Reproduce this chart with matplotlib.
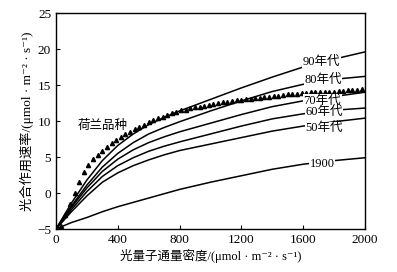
import matplotlib
matplotlib.use("Agg")
import matplotlib.pyplot as plt

plt.rcParams['font.family'] = ['Liberation Serif', 'Noto Sans CJK SC', 'DejaVu Sans']

# light intensity for the modelled curves
x_line = [0, 100, 200, 300, 400, 500, 600, 700, 800, 1000, 1200, 1400, 1600, 1800, 2000]
y_90s = [-5, -1.4, 1.8, 4.5, 6.6, 8.2, 9.5, 10.5, 11.4, 13.0, 14.6, 16.1, 17.5, 18.6, 19.6]
y_80s = [-5, -1.8, 1.1, 3.6, 5.5, 7.0, 8.2, 9.1, 9.9, 11.4, 12.8, 14.1, 15.1, 15.8, 16.2]
y_70s = [-5, -2.0, 0.7, 3.0, 4.7, 6.0, 7.0, 7.8, 8.5, 9.7, 10.9, 12.0, 12.8, 13.4, 14.0]
y_60s = [-5, -2.3, 0.2, 2.3, 3.8, 4.9, 5.8, 6.5, 7.1, 8.2, 9.3, 10.3, 11.0, 11.5, 11.8]
y_50s = [-5, -2.6, -0.4, 1.5, 2.8, 3.8, 4.6, 5.3, 5.9, 6.8, 7.7, 8.6, 9.3, 9.9, 10.4]
y_1900 = [-5, -4.1, -3.4, -2.6, -1.9, -1.3, -0.7, -0.1, 0.5, 1.5, 2.4, 3.3, 4.0, 4.5, 4.9]

# Dutch variety measurements (triangles)
x_nl = [30, 60, 90, 120, 150, 180, 210, 240, 270, 300, 330, 360, 390, 420, 450,
        480, 510, 540, 570, 600, 630, 660, 690, 720, 750, 780, 810, 840, 870,
        900, 930, 960, 990, 1020, 1050, 1080, 1110, 1140, 1170, 1200, 1230,
        1260, 1290, 1320, 1350, 1380, 1410, 1440, 1470, 1500, 1530, 1560, 1590,
        1620, 1650, 1680, 1710, 1740, 1770, 1800, 1830, 1860, 1890, 1920, 1950,
        1980]
y_nl = [-4.6, -3.1, -1.5, 0.0, 1.6, 2.9, 3.9, 4.7, 5.3, 5.9, 6.4, 6.9, 7.3, 7.8,
        8.2, 8.5, 8.9, 9.2, 9.5, 9.8, 10.1, 10.4, 10.6, 10.9, 11.1, 11.3, 11.5,
        11.6, 11.8, 11.9, 12.0, 12.1, 12.2, 12.4, 12.5, 12.6, 12.7, 12.8, 12.9,
        12.9, 13.0, 13.1, 13.2, 13.2, 13.3, 13.4, 13.5, 13.5, 13.6, 13.7, 13.7,
        13.8, 13.9, 13.9, 14.0, 14.0, 14.0, 14.1, 14.1, 14.1, 14.2, 14.2, 14.3,
        14.3, 14.3, 14.4]

labels = ['90年代', '80年代', '70年代', '60年代', '50年代', '1900']
label_x = [1720, 1730, 1725, 1735, 1735, 1723]
label_y = [18.2, 15.7, 12.8, 11.3, 9.0, 4.1]

fig = plt.figure(figsize=(3.97, 2.72), dpi=100)
ax = fig.add_axes([0.141, 0.158, 0.778, 0.794])

for ys in [y_90s, y_80s, y_70s, y_60s, y_50s, y_1900]:
    ax.plot(x_line, ys, color='black', lw=1.1)

ax.plot(x_nl, y_nl, linestyle='none', marker='^', color='black', markersize=3.0)

for t, lx, ly in zip(labels, label_x, label_y):
    ax.text(lx, ly, t, ha='center', va='center', fontsize=9,
            bbox=dict(facecolor='white', edgecolor='none', pad=0.3))

ax.text(300, 9.3, '荷兰品种', ha='center', va='center', fontsize=9,
        bbox=dict(facecolor='white', edgecolor='none', pad=0.3))

ax.set_xlim(0, 2000)
ax.set_ylim(-5, 25)
ax.set_xticks([0, 400, 800, 1200, 1600, 2000])
ax.set_yticks([-5, 0, 5, 10, 15, 20, 25])
ax.tick_params(direction='in', length=3, labelsize=9.5, width=0.8)
ax.set_xticklabels(['0', '400', '800', '1200', '1600', '2000'])
ax.set_yticklabels(['−5', '0', '5', '10', '15', '20', '25'])
for s in ax.spines.values():
    s.set_linewidth(1.0)

ax.set_xlabel('光量子通量密度/(μmol · m⁻² · s⁻¹)', fontsize=9, labelpad=2)
ax.set_ylabel('光合作用速率/(μmol · m⁻² · s⁻¹)', fontsize=9.5, labelpad=2)

fig.savefig('out.png', dpi=100)
